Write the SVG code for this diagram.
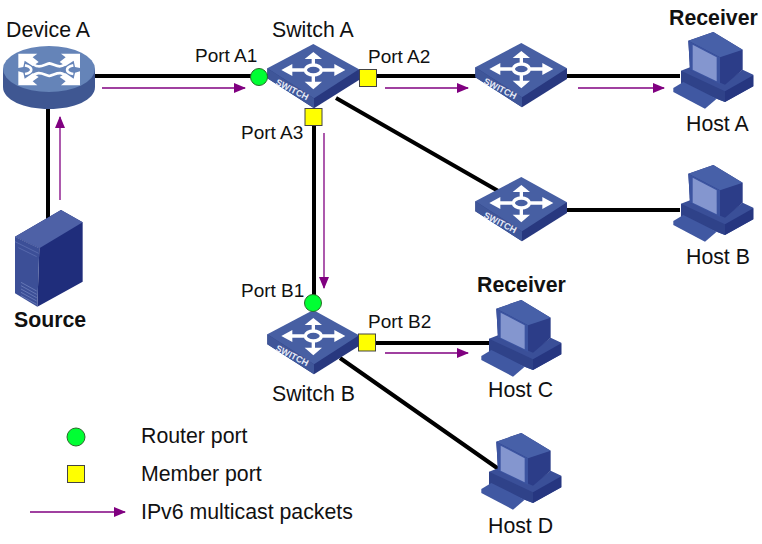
<svg xmlns="http://www.w3.org/2000/svg" xmlns:xlink="http://www.w3.org/1999/xlink" width="762" height="544" viewBox="0 0 762 544">
<style>
text{font-family:"Liberation Sans",Arial,sans-serif;font-size:21.300px;fill:#111}
text.p{font-size:19px}
.b{font-weight:bold}
.l{stroke:#000;stroke-width:4;fill:none}
.m{stroke:#800080;stroke-width:1.3;fill:none;marker-end:url(#a)}
.rp{fill:#00ff33;stroke:#2a6a2a;stroke-width:1}
.mp{fill:#ffff00;stroke:#444;stroke-width:1}
</style>
<defs>
<marker id="a" markerWidth="12" markerHeight="10" refX="11" refY="5" orient="auto" markerUnits="userSpaceOnUse"><path d="M0 0L12 5L0 10Z" fill="#800080"/></marker>
<g id="sw" transform="scale(.3333)">
<path d="M10 85V115L150 205L285 120V88Z" fill="#28387f"/>
<path d="M10 85L150 175V205L10 115Z" fill="#3f5699"/>
<path d="M10 85L148 12L285 88L150 175Z" fill="#475fa3"/>
<g fill="none" stroke="#fff" stroke-width="10">
<ellipse cx="148" cy="90" rx="24" ry="15"/>
<path d="M72 90H122M174 90H224M148 50V74M148 106V130"/>
</g>
<path d="M52 90L85 72V108ZM244 90L211 72V108ZM148 36L122 57H174ZM148 148L122 125H174Z" fill="#fff"/>
<text transform="translate(33,133) rotate(27)" style="font-size:27px;font-weight:bold;fill:#e6eaf6">SWITCH</text>
</g>
<g id="host" transform="scale(.3333)">
<path d="M33 128L60 118L165 165L218 125L250 140V175L165 222L33 170Z" fill="#3a4f98"/>
<path d="M165 190L250 142V175L165 222Z" fill="#263680"/>
<path d="M33 128L165 190V222L33 170Z" fill="#2f4289"/>
<path d="M10 180L40 162L140 212L105 242L10 192Z" fill="#4058a2"/>
<path d="M55 38L130 12L218 65V125L165 170L60 125Z" fill="#2c3d88"/>
<path d="M55 38L130 12L218 65L150 88Z" fill="#4760a8"/>
<path d="M55 38L150 88V168L60 125Z" fill="#3c54a0"/>
<path d="M68 50L140 88V160L68 125Z" fill="#8496cf"/>
</g>
</defs>
<g id="connectors">
<path class="l" d="M94 76H270M48 100V222M359 76H480M567 76H680M567 210H680M336 98L500 192M314 120V300M355 343H490M340 358L500 470"/>
<path class="m" d="M102 88H245"/>
<path class="m" d="M385 88H468"/>
<path class="m" d="M578 88H664"/>
<path class="m" d="M60 200V117"/>
<path class="m" d="M324 133V288"/>
<path class="m" d="M385 353H468"/>
<path class="m" d="M30 512H125"/>
</g>
<g id="device-a">
<path d="M3 69V87C3 100 24 109 49 109S95 100 95 87V69Z" fill="#3f5792"/>
<ellipse cx="49" cy="69" rx="46" ry="23" fill="#6584b8"/>
<g transform="translate(0,42) scale(.3333)">
<path d="M55 35H112L98 46L116 60L98 72L74 56L70 75L55 78ZM240 35H183L197 46L179 60L197 72L221 56L225 75L240 78ZM55 130H112L98 118L116 105L98 94L74 110L70 92L55 88ZM240 130H183L197 118L179 105L197 94L221 110L225 92L240 88Z" fill="#fff"/>
<path d="M90 58C115 85 130 68 148 64C168 68 180 85 205 58M90 108C115 82 130 98 148 102C168 98 180 82 205 108M75 70C100 75 100 92 75 96M220 70C195 75 195 92 220 96" fill="none" stroke="#fff" stroke-width="8"/>
</g>
<text x="6" y="37">Device A</text>
</g>
<g id="source">
<g transform="translate(10,205) scale(.3333)">
<path d="M153 15L218 52V230L82 305L88 130L15 95Z" fill="#1f2d7b"/>
<path d="M15 95L153 15L218 52L88 130Z" fill="#4e61a6"/>
<path d="M15 95L88 130L82 305L15 265Z" fill="#3c4f97"/>
<path d="M15 110L86 145M25 128L80 155" stroke="#5b6eb0" stroke-width="2.500" fill="none"/>
<path d="M33 232L80 258M33 242L80 268M33 252L80 278M33 262L80 288M33 272L80 298" stroke="#6476b5" stroke-width="3" fill="none"/>
</g>
<text class="b" x="14" y="327">Source</text>
</g>
<g id="switch-a"><use xlink:href="#sw" href="#sw" transform="translate(264,40)"/><text x="272" y="37">Switch A</text></g>
<g id="switch-2"><use xlink:href="#sw" href="#sw" transform="translate(472,39)"/></g>
<g id="switch-3"><use xlink:href="#sw" href="#sw" transform="translate(472,173)"/></g>
<g id="switch-b"><use xlink:href="#sw" href="#sw" transform="translate(264,306)"/><text x="272" y="401">Switch B</text></g>
<g id="host-a"><use xlink:href="#host" href="#host" transform="translate(670,28)"/><text x="686" y="131">Host A</text><text class="b" x="669" y="25">Receiver</text></g>
<g id="host-b"><use xlink:href="#host" href="#host" transform="translate(670,161)"/><text x="686" y="264">Host B</text></g>
<g id="host-c"><use xlink:href="#host" href="#host" transform="translate(478,296)"/><text x="488" y="397">Host C</text><text class="b" x="477" y="292">Receiver</text></g>
<g id="host-d"><use xlink:href="#host" href="#host" transform="translate(478,429)"/><text x="488" y="533">Host D</text></g>
<g id="ports">
<circle class="rp" cx="259" cy="77" r="8.500"/>
<rect class="mp" x="359.500" y="69.500" width="17" height="17"/>
<rect class="mp" x="305" y="108.500" width="17" height="17"/>
<circle class="rp" cx="313" cy="303" r="8.500"/>
<rect class="mp" x="358.500" y="334" width="17" height="17"/>
<text class="p" x="195" y="62">Port A1</text>
<text class="p" x="368" y="63">Port A2</text>
<text class="p" x="241" y="139">Port A3</text>
<text class="p" x="241" y="297">Port B1</text>
<text class="p" x="368" y="328">Port B2</text>
</g>
<g id="legend">
<circle class="rp" cx="76" cy="437" r="9"/>
<rect class="mp" x="67.500" y="465.500" width="17" height="17"/>
<text x="141" y="443">Router port</text>
<text x="141" y="481">Member port</text>
<text x="141" y="519">IPv6 multicast packets</text>
</g>
</svg>
